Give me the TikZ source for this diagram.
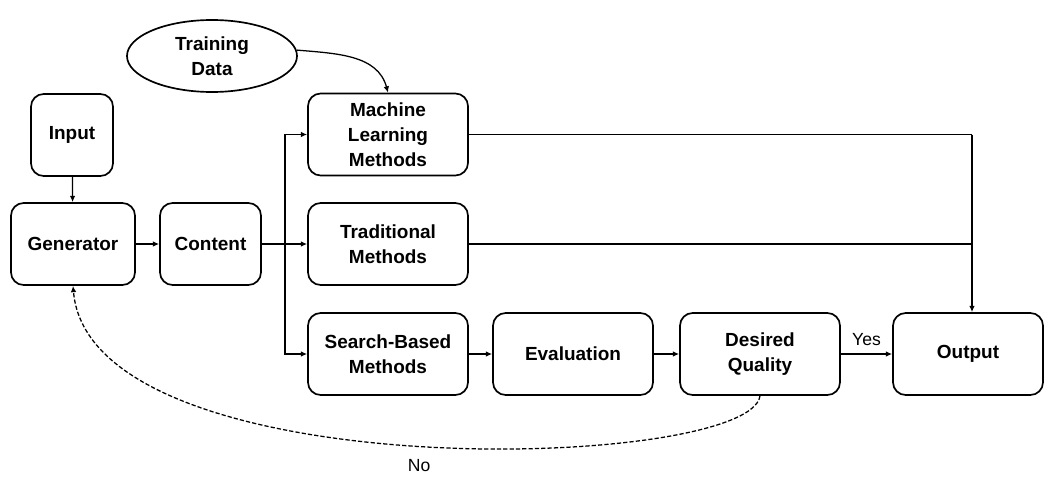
\documentclass[tikz,border=0pt]{standalone}
\usepackage{fontspec}
\setmainfont{Liberation Sans}
\usetikzlibrary{arrows.meta,shapes.geometric}

\begin{document}
\begin{tikzpicture}[
	box/.style={draw, rounded corners=9pt, line width=1.2pt, align=center, minimum height=2.05cm, minimum width=4cm, inner sep=2pt, font=\bfseries\fontsize{13.5}{17.8}\selectfont},
	link/.style={line width=0.9pt, -{Latex[length=4.5pt, width=4pt]}}
]
	\useasboundingbox (0, 0) rectangle (26.125, -11.925);

	\node[box, minimum width=2.05cm] (input) at (1.8, -3.375) {Input};
	\node[box, minimum width=3.1cm] (gen) at (1.825, -6.1) {Generator};
	\node[box, minimum width=2.525cm] (content) at (5.2625, -6.1) {Content};
	\node[draw, ellipse, line width=1.2pt, minimum width=4.25cm, minimum height=1.8cm, inner sep=0pt, align=center, font=\bfseries\fontsize{13.5}{17.8}\selectfont] (data) at (5.3, -1.4) {Training\\Data};

	\node[box] (ml) at (9.7, -3.3625) {Machine\\Learning\\Methods};
	\node[box] (trad) at (9.7, -6.1) {Traditional\\Methods};
	\node[box] (search) at (9.7, -8.85) {Search-Based\\Methods};
	\node[box] (eval) at (14.325, -8.85) {Evaluation};
	\node[box] (quality) at (19.0, -8.85) {Desired\\Quality};
	\node[box, minimum width=3.75cm] (out) at (24.2, -8.85) {Output};

	\coordinate (split) at (7.125, -6.1);
	\coordinate (merge) at (24.3, -3.3625);

	\draw[link] (input) -- (gen);
	\draw[link] (gen) -- (content);
	\draw[link] (content) -- (trad);
	\draw[link] (split) |- (ml.west);
	\draw[link] (split) |- (search.west);
	\draw[link] (data.4) to[out=-5, in=105] (ml.north);

	\draw[link] (search) -- (eval);
	\draw[link] (eval) -- (quality);
	\draw[link] (quality) -- (out) node[midway, above=2pt, font=\fontsize{12.5}{14}\selectfont] {Yes};

	% both upper branches join into the output
	\draw[line width=0.9pt] (ml.east) -- (merge);
	\draw[line width=0.9pt] (trad.east) -- (merge |- trad.east);
	\draw[link] (merge) -- (merge |- out.north);

	% loop back when the quality is not reached
	\draw[link, dash pattern=on 3pt off 1.5pt] (quality.south) .. controls +(-0.25, -1.875) and +(0.425, -5.125) .. (gen.south)
		node[pos=0.5, below=6pt, font=\fontsize{12.5}{14}\selectfont] {No};
\end{tikzpicture}
\end{document}
